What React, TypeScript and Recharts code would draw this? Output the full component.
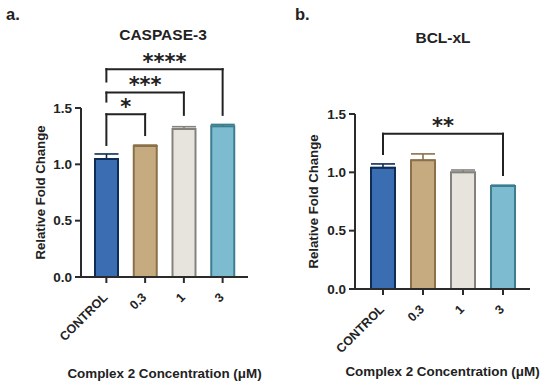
import React from 'react';
import { BarChart, Bar, XAxis, YAxis, ErrorBar, ReferenceLine } from 'recharts';

const categories = ['CONTROL', '0.3', '1', '3'];
const caspaseMeans = [1.047, 1.163, 1.314, 1.338];
const caspaseErrors = [0.045, 0.008, 0.02, 0.016];
const bclMeans = [1.04, 1.104, 1.0, 0.883];
const bclErrors = [0.032, 0.054, 0.02, 0.007];
const yTicks = [0, 0.5, 1, 1.5];

const fills = ['#3b6db3', '#c6aa80', '#e7e3dd', '#7dbcd0'];
const strokes = ['#0f2c57', '#8b7049', '#85827d', '#3c7d8f'];

const caspaseBracketTo = ['0.3', '1', '3'];
const caspaseBracketTop = [1.445, 1.637, 1.845];
const caspaseBracketLeftEnd = [1.172, 1.557, 1.735];
const caspaseBracketRightEnd = [1.26, 1.439, 1.439];
const caspaseBracketLabels = ['*', '***', '****'];

const bclBracketTo = ['3'];
const bclBracketTop = [1.33];
const bclBracketLeftEnd = [1.158];
const bclBracketRightEnd = [0.978];
const bclBracketLabels = ['**'];

const FONT = '"Liberation Sans", Arial, Helvetica, sans-serif';
const INK = '#222';
const AXIS = '#2b2b2b';

function buildRows(means: number[], errors: number[]) {
  return categories.map((c, i) => {
    const row: any = { category: c };
    categories.forEach((_, j) => {
      row['v' + j] = i === j ? means[i] : null;
      row['e' + j] = i === j ? [0, errors[i]] : null;
    });
    return row;
  });
}

const XTick = (props: any) => {
  const { x, y, payload } = props;
  return (
    <g transform={`translate(${x + 2},${y + 13})`}>
      <text
        textAnchor="end"
        transform="rotate(-45)"
        fontSize={12.5}
        fontWeight={700}
        fill={INK}
        fontFamily={FONT}
      >
        {payload.value}
      </text>
    </g>
  );
};

const starLabel = (text: string) => (p: any) => {
  const vb = p.viewBox;
  return (
    <text
      x={vb.x + vb.width / 2}
      y={vb.y - 0.5}
      textAnchor="middle"
      fontSize={21}
      fontWeight={700}
      fill={INK}
      fontFamily='"DejaVu Sans", sans-serif'
    >
      {text}
    </text>
  );
};

function renderBrackets(
  to: string[],
  tops: number[],
  leftEnds: number[],
  rightEnds: number[],
  labels: string[]
) {
  const out: any[] = [];
  to.forEach((t, i) => {
    const from = categories[0];
    out.push(
      <ReferenceLine
        key={'l' + i}
        segment={[{ x: from, y: leftEnds[i] }, { x: from, y: tops[i] }]}
        stroke={INK}
        strokeWidth={2}
        strokeLinecap="square"
        ifOverflow="visible"
      />
    );
    out.push(
      <ReferenceLine
        key={'t' + i}
        segment={[{ x: from, y: tops[i] }, { x: t, y: tops[i] }]}
        stroke={INK}
        strokeWidth={2}
        strokeLinecap="square"
        ifOverflow="visible"
        label={starLabel(labels[i])}
      />
    );
    out.push(
      <ReferenceLine
        key={'r' + i}
        segment={[{ x: t, y: rightEnds[i] }, { x: t, y: tops[i] }]}
        stroke={INK}
        strokeWidth={2}
        strokeLinecap="square"
        ifOverflow="visible"
      />
    );
  });
  return out;
}

function Panel(props: any) {
  const {
    rows, top, right, yWidth, xHeight, barSize, padLeft, padRight,
    yLabelOffset, xLabelOffset, brackets,
  } = props;
  return (
    <BarChart
      width={275}
      height={387}
      data={rows}
      margin={{ top, right, bottom: 0, left: 0 }}
      barSize={barSize}
    >
      <XAxis
        dataKey="category"
        type="category"
        interval={0}
        height={xHeight}
        padding={{ left: padLeft, right: padRight }}
        axisLine={{ stroke: AXIS, strokeWidth: 2 }}
        tickLine={{ stroke: AXIS, strokeWidth: 2 }}
        tickSize={6}
        tick={<XTick />}
        label={{
          value: 'Complex 2 Concentration (\u03bcM)',
          position: 'insideBottom',
          offset: xLabelOffset,
          style: { fontSize: 13.4, fontWeight: 700, fill: INK, fontFamily: FONT },
        }}
      />
      <YAxis
        type="number"
        domain={[0, 1.5]}
        ticks={yTicks}
        width={yWidth}
        tickFormatter={(v: number) => v.toFixed(1)}
        axisLine={{ stroke: AXIS, strokeWidth: 2 }}
        tickLine={{ stroke: AXIS, strokeWidth: 2 }}
        tickSize={6}
        tickMargin={3}
        tick={{ fontSize: 13.5, fontWeight: 700, fill: INK, fontFamily: FONT }}
        label={{
          value: 'Relative Fold Change',
          angle: -90,
          position: 'insideLeft',
          offset: yLabelOffset,
          style: { textAnchor: 'middle', fontSize: 13.2, fontWeight: 700, fill: INK, fontFamily: FONT },
        }}
      />
      {categories.map((_, j) => (
        <Bar
          key={'b' + j}
          dataKey={'v' + j}
          stackId="s"
          fill={fills[j]}
          stroke={strokes[j]}
          strokeWidth={2}
          isAnimationActive={false}
        >
          <ErrorBar
            dataKey={'e' + j}
            direction="y"
            width={12}
            stroke={strokes[j]}
            strokeWidth={1.6}
            isAnimationActive={false}
          />
        </Bar>
      ))}
      {brackets}
    </BarChart>
  );
}

export default function App() {
  const caspaseRows = buildRows(caspaseMeans, caspaseErrors);
  const bclRows = buildRows(bclMeans, bclErrors);
  const titleStyle: any = {
    position: 'absolute',
    fontFamily: FONT,
    fontWeight: 700,
    color: INK,
    lineHeight: 1,
    whiteSpace: 'nowrap',
  };
  return (
    <div
      style={{
        position: 'absolute',
        left: 0,
        top: 0,
        width: 550,
        height: 387,
        background: '#fff',
        overflow: 'hidden',
      }}
    >
      <div style={{ position: 'absolute', left: 0, top: 0 }}>
        <Panel
          rows={caspaseRows}
          top={108}
          right={27}
          yWidth={81}
          xHeight={110}
          barSize={23}
          padLeft={6}
          padRight={6}
          yLabelOffset={40}
          xLabelOffset={9.5}
          brackets={renderBrackets(
            caspaseBracketTo,
            caspaseBracketTop,
            caspaseBracketLeftEnd,
            caspaseBracketRightEnd,
            caspaseBracketLabels
          )}
        />
      </div>
      <div style={{ position: 'absolute', left: 275, top: 0 }}>
        <Panel
          rows={bclRows}
          top={114}
          right={20}
          yWidth={80}
          xHeight={98}
          barSize={24}
          padLeft={8}
          padRight={7}
          yLabelOffset={38}
          xLabelOffset={10.7}
          brackets={renderBrackets(
            bclBracketTo,
            bclBracketTop,
            bclBracketLeftEnd,
            bclBracketRightEnd,
            bclBracketLabels
          )}
        />
      </div>
      <div style={{ ...titleStyle, left: 6, top: 6, fontSize: 16.5 }}>a.</div>
      <div style={{ ...titleStyle, left: 295, top: 6, fontSize: 16.5 }}>b.</div>
      <div style={{ ...titleStyle, left: 63, width: 200, textAlign: 'center', top: 27.4, fontSize: 15.5 }}>
        CASPASE-3
      </div>
      <div style={{ ...titleStyle, left: 343, width: 200, textAlign: 'center', top: 30.4, fontSize: 15.5 }}>
        BCL-xL
      </div>
    </div>
  );
}
